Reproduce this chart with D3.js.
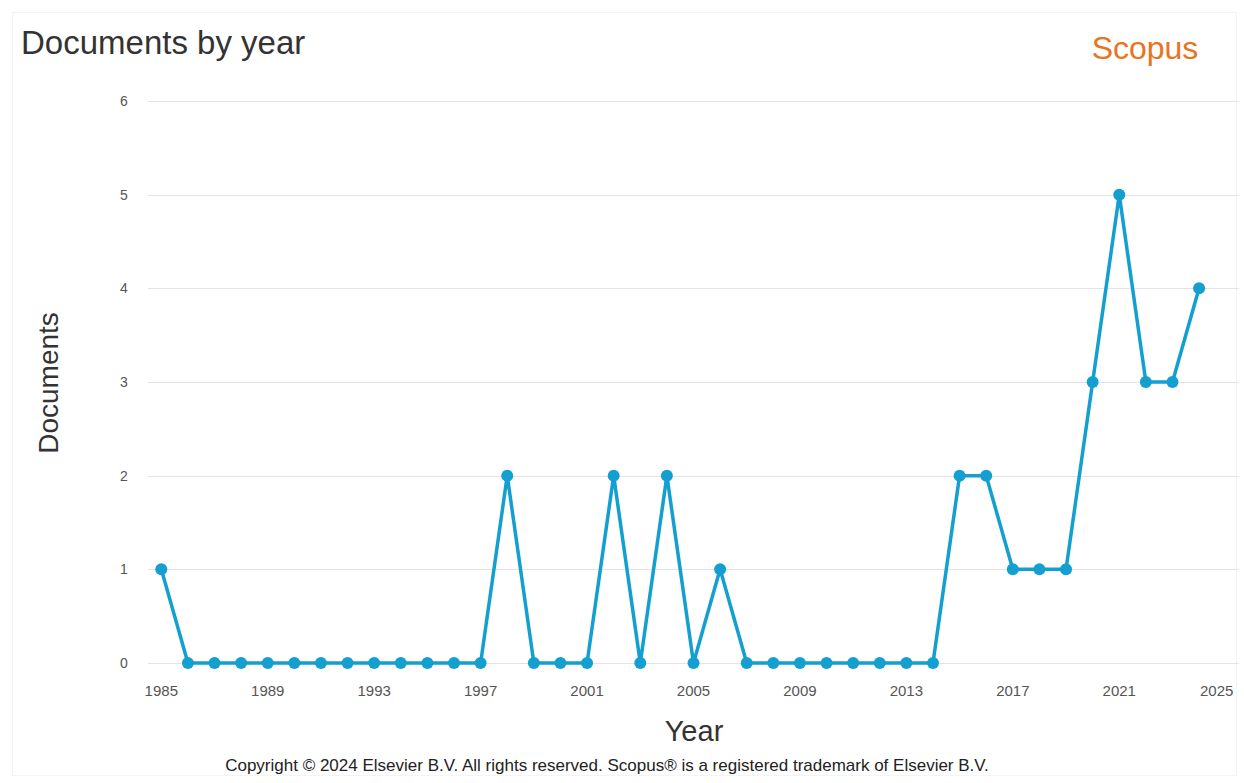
<!DOCTYPE html>
<html>
<head>
<meta charset="utf-8">
<script src="https://cdn.jsdelivr.net/npm/d3@7"></script>
<style>
  body { margin: 0; background: #fff; }
  text { font-family: "Liberation Sans", Arial, sans-serif; }
</style>
</head>
<body>
<div id="chart"></div>
<script>
// chart size
const width = 1244,
      height = 783;

// data
const years = d3.range(1985, 2025);
const documents = [1, 0, 0, 0, 0, 0, 0, 0, 0, 0, 0, 0, 0, 2, 0, 0, 0, 2, 0, 2,
                   0, 1, 0, 0, 0, 0, 0, 0, 0, 0, 2, 2, 1, 1, 1, 3, 5, 3, 3, 4];
const xTicks = [1985, 1989, 1993, 1997, 2001, 2005, 2009, 2013, 2017, 2021, 2025];
const yTicks = [0, 1, 2, 3, 4, 5, 6];

const points = years.map((y, i) => ({ year: y, value: documents[i] }));

const svg = d3.select("#chart").append("svg")
    .attr("width", width)
    .attr("height", height);

// faint frame round the chart
svg.append("rect")
    .attr("x", 12.5).attr("y", 12.5)
    .attr("width", width - 20).attr("height", height - 20)
    .attr("fill", "none")
    .attr("stroke", "#f4f4f4");

const x = d3.scaleLinear().domain([1984.5, 2025.5]).range([148, 1239]);
const y = d3.scaleLinear().domain([0, 6]).range([663, 101]);

// gridlines
svg.append("g").selectAll("line")
    .data(yTicks)
    .join("line")
    .attr("x1", x.range()[0])
    .attr("x2", x.range()[1])
    .attr("y1", d => Math.round(y(d)) + 0.5)
    .attr("y2", d => Math.round(y(d)) + 0.5)
    .attr("stroke", "#e3e3e3");

// y tick labels
svg.append("g").selectAll("text")
    .data(yTicks)
    .join("text")
    .attr("x", 124)
    .attr("y", d => y(d) + 5)
    .attr("text-anchor", "middle")
    .attr("font-size", "14px")
    .attr("fill", "#555")
    .text(d => d);

// x tick labels (the last one is pulled in to fit, as in the original)
svg.append("g").selectAll("text")
    .data(xTicks)
    .join("text")
    .attr("x", d => d === 2025 ? x(d) - 9 : x(d))
    .attr("y", 696)
    .attr("text-anchor", "middle")
    .attr("font-size", "15px")
    .attr("fill", "#555")
    .text(d => d);

// line
const line = d3.line()
    .x(d => x(d.year))
    .y(d => y(d.value));

svg.append("path")
    .datum(points)
    .attr("d", line)
    .attr("fill", "none")
    .attr("stroke", "#139fcf")
    .attr("stroke-width", 3.5)
    .attr("stroke-linejoin", "round");

svg.append("g").selectAll("circle")
    .data(points)
    .join("circle")
    .attr("cx", d => x(d.year))
    .attr("cy", d => y(d.value))
    .attr("r", 6)
    .attr("fill", "#139fcf");

// titles
svg.append("text")
    .attr("x", 21)
    .attr("y", 54)
    .attr("font-size", "33px")
    .attr("fill", "#333")
    .text("Documents by year");

svg.append("text")
    .attr("x", 1145)
    .attr("y", 59)
    .attr("text-anchor", "middle")
    .attr("font-family", "'Open Sans', sans-serif")
    .attr("font-size", "32px")
    .attr("fill", "#e8741f")
    .text("Scopus");

svg.append("text")
    .attr("transform", "translate(58, 383) rotate(-90)")
    .attr("text-anchor", "middle")
    .attr("font-size", "28px")
    .attr("fill", "#333")
    .text("Documents");

svg.append("text")
    .attr("x", 694)
    .attr("y", 741)
    .attr("text-anchor", "middle")
    .attr("font-size", "29px")
    .attr("fill", "#333")
    .text("Year");

svg.append("text")
    .attr("x", 607)
    .attr("y", 771)
    .attr("text-anchor", "middle")
    .attr("font-size", "17px")
    .attr("fill", "#222")
    .text("Copyright © 2024 Elsevier B.V. All rights reserved. Scopus® is a registered trademark of Elsevier B.V.");
</script>
</body>
</html>
